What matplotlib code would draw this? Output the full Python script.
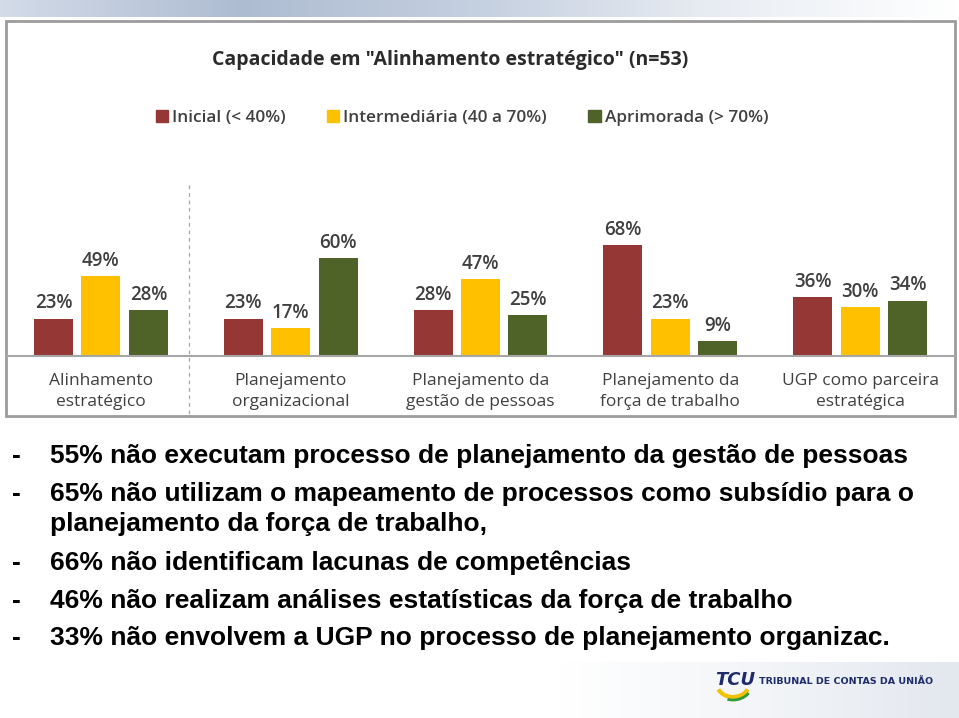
import matplotlib
matplotlib.use('Agg')
import matplotlib.pyplot as plt
import numpy as np
from matplotlib.patches import Rectangle, Arc
from matplotlib.colors import LinearSegmentedColormap

# ---------------- data ----------------
categories = ["Alinhamento\nestratégico", "Planejamento\norganizacional",
              "Planejamento da\ngestão de pessoas", "Planejamento da\nforça de trabalho",
              "UGP como parceira\nestratégica"]
series_names = ["Inicial (< 40%)", "Intermediária (40 a 70%)", "Aprimorada (> 70%)"]
inicial = [23, 23, 28, 68, 36]
intermediaria = [49, 17, 47, 23, 30]
aprimorada = [28, 60, 25, 9, 34]
title = 'Capacidade em "Alinhamento estratégico" (n=53)'
bullets = [
    ("-", "55% não executam processo de planejamento da gestão de pessoas"),
    ("-", "65% não utilizam o mapeamento de processos como subsídio para o"),
    ("", "planejamento da força de trabalho,"),
    ("-", "66% não identificam lacunas de competências"),
    ("-", "46% não realizam análises estatísticas da força de trabalho"),
    ("-", "33% não envolvem a UGP no processo de planejamento organizac."),
]
colors = ['#953735', '#FFC000', '#4F6228']
text_gray = '#404040'

W, H = 959, 718
fig = plt.figure(figsize=(9.59, 7.18), dpi=100)

# background / decoration axes in pixel coords
bg = fig.add_axes([0, 0, 1, 1], zorder=0)
bg.set_xlim(0, W)
bg.set_ylim(H, 0)
bg.axis('off')

# top banner gradient
cm_top = LinearSegmentedColormap.from_list('top', ['#d3dbe8', '#aebcd2', '#c5d0e0', '#e9edf3', '#ffffff'])
grad = np.linspace(0, 1, 256)[None, :]
bg.imshow(grad, cmap=cm_top, extent=[0, W, 17, 0], aspect='auto', zorder=0)

# bottom gradient
cm_bot = LinearSegmentedColormap.from_list('bot', ['#ffffff', '#f3f5f8', '#e3e7ee'])
bg.imshow(grad, cmap=cm_bot, extent=[560, W, H, 662], aspect='auto', zorder=0)

# chart box
bg.add_patch(Rectangle((6, 21), 949, 395, fill=False, ec='#9c9c9c', lw=2, zorder=1))
# dashed separator
bg.plot([189, 189], [185, 415], ls=(0, (3, 3)), color='#a6a6a6', lw=0.9, zorder=1)

# ---------------- chart ----------------
base_y, top_y = 356, 150
px_per_unit = 1.63
ax = fig.add_axes([6 / W, (H - base_y) / H, 949 / W, (base_y - top_y) / H], zorder=2)
ax.patch.set_alpha(0)
x = np.arange(len(categories))
width = 0.205
offs = [-0.25, 0.0, 0.25]
for vals, off, c in zip([inicial, intermediaria, aprimorada], offs, colors):
    bars = ax.bar(x + off, vals, width, color=c)
    ax.bar_label(bars, labels=[f"{v}%" for v in vals], padding=4,
                 fontsize=13.5, color=text_gray, family='Open Sans', fontweight='semibold')
ax.set_xlim(-0.5, 4.5)
ax.set_ylim(0, (base_y - top_y) / px_per_unit)
ax.set_xticks(x, categories)
ax.tick_params(axis='x', length=0, pad=12, labelsize=12.5, labelcolor=text_gray)
for lab in ax.get_xticklabels():
    lab.set_family('Open Sans')
    lab.set_linespacing(1.45)
ax.set_yticks([])
for s in ['top', 'left', 'right']:
    ax.spines[s].set_visible(False)
ax.spines['bottom'].set_color('#a6a6a6')
ax.spines['bottom'].set_linewidth(1.5)

fig.text(450 / W, 1 - 60 / H, title, ha='center', va='center', fontsize=14,
         fontweight='bold', family='Open Sans', color='#2b2b2b')

handles = [Rectangle((0, 0), 1, 1, color=c) for c in colors]
leg = fig.legend(handles, series_names, loc='center', bbox_to_anchor=(462 / W, 1 - 118 / H),
                 ncol=3, frameon=False, handlelength=0.7, handleheight=0.7,
                 columnspacing=2.4, handletextpad=0.25,
                 prop={'family': 'Open Sans', 'size': 12.4, 'weight': 'semibold'})
for t in leg.get_texts():
    t.set_color(text_gray)

# ---------------- bullet text ----------------
line_y = [456, 494, 524, 563, 601, 638]
for (dash, txt), yy in zip(bullets, line_y):
    if dash:
        fig.text(12 / W, 1 - yy / H, dash, ha='left', va='center', fontsize=19,
                 family='Liberation Sans', fontweight='bold', color='black')
    fig.text(50 / W, 1 - yy / H, txt, ha='left', va='center', fontsize=19,
             family='Liberation Sans', fontweight='bold', color='black')

# ---------------- logo ----------------
navy = '#1f2c6c'
bg.add_patch(Arc((733, 684), 32, 26, theta1=20, theta2=160, color='#f2c200', lw=3, zorder=2))
bg.add_patch(Arc((733, 684), 38, 32, theta1=30, theta2=110, color='#2e9a3c', lw=2, zorder=2))
bg.text(715, 680, 'TCU', fontsize=13, fontweight='heavy', style='italic', color=navy,
        family='DejaVu Sans', va='center', ha='left', zorder=3)
bg.text(759, 681, 'TRIBUNAL DE CONTAS DA UNIÃO', fontsize=6.8, fontweight='bold', color=navy,
        family='DejaVu Sans', va='center', ha='left', zorder=3)

fig.savefig('out.png', dpi=100)
